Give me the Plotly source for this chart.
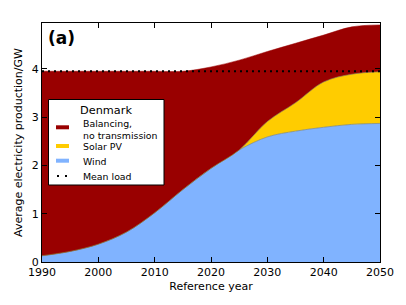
import plotly.graph_objects as go

years = [1990, 1995, 2000, 2005, 2010, 2015, 2020, 2025, 2030, 2035, 2040, 2045, 2050]
wind = [0.13, 0.22, 0.37, 0.62, 1.02, 1.50, 1.94, 2.32, 2.59, 2.71, 2.79, 2.85, 2.87]
solar = [0.0, 0.0, 0.0, 0.0, 0.0, 0.0, 0.0, 0.0, 0.32, 0.59, 0.94, 1.04, 1.07]
total = [3.95, 3.95, 3.95, 3.95, 3.95, 3.95, 4.04, 4.18, 4.36, 4.53, 4.70, 4.87, 4.91]
balancing = [t - w - s for t, w, s in zip(total, wind, solar)]
mean_load = [3.95, 3.95]
load_years = [1990, 2050]

legend_title = "Denmark"
legend_labels = ["Balancing,<br>no transmission", "Solar PV", "Wind", "Mean load"]

C_WIND = "#80B3FF"
C_SOLAR = "#FFCC00"
C_BAL = "#990000"
SM = 1.0

W, H = 406, 305
ML, MR, MT, MB = 42, 26, 23, 43
PW, PH = W - ML - MR, H - MT - MB


def px(x):
    return (x - ML) / PW


def py(y):
    return (H - MB - y) / PH


fig = go.Figure()
fig.add_trace(go.Scatter(x=years, y=wind, name="Wind", stackgroup="one",
                         mode="lines", line=dict(width=0.7, color="#6a7f99", shape="spline", smoothing=SM),
                         fillcolor=C_WIND, showlegend=False))
fig.add_trace(go.Scatter(x=years, y=solar, name="Solar PV", stackgroup="one",
                         mode="lines", line=dict(width=0.7, color="#8a7a3a", shape="spline", smoothing=SM),
                         fillcolor=C_SOLAR, showlegend=False))
fig.add_trace(go.Scatter(x=years, y=balancing, name="Balancing, no transmission", stackgroup="one",
                         mode="lines", line=dict(width=0.5, color=C_BAL, shape="spline", smoothing=SM),
                         fillcolor=C_BAL, showlegend=False))
fig.add_trace(go.Scatter(x=load_years, y=mean_load, name="Mean load", mode="lines",
                         line=dict(color="black", width=2, dash="2px,4px"), showlegend=False))

font = "DejaVu Sans"

# legend drawn by hand to match the reference layout
shapes = [dict(type="rect", xref="paper", yref="paper", x0=px(48.5), x1=px(164), y0=py(185), y1=py(99.5),
               line=dict(color="black", width=1), fillcolor="white", layer="above")]
annotations = [dict(text=legend_title, x=px(106), y=py(110), xref="paper", yref="paper",
                    xanchor="center", yanchor="middle", showarrow=False, font=dict(size=11.3))]
sym_y = [127.3, 146, 160.7, 176]
txt_y = [129, 146, 161, 176.5]
sym_col = [C_BAL, C_SOLAR, C_WIND]
for i, c in enumerate(sym_col):
    shapes.append(dict(type="rect", xref="paper", yref="paper", x0=px(56), x1=px(69),
                       y0=py(sym_y[i] + 2), y1=py(sym_y[i] - 2), line=dict(width=0),
                       fillcolor=c, layer="above"))
shapes.append(dict(type="line", xref="paper", yref="paper", x0=px(57), x1=px(70),
                   y0=py(sym_y[3]), y1=py(sym_y[3]), layer="above",
                   line=dict(color="black", width=2, dash="2px,6px")))
for i, lab in enumerate(legend_labels):
    annotations.append(dict(text=lab, x=px(81), y=py(txt_y[i]), xref="paper", yref="paper",
                            xanchor="left", yanchor="middle", align="left", showarrow=False,
                            font=dict(size=9.4)))
annotations.append(dict(text="<b>(a)</b>", x=px(46), y=py(26), xref="paper", yref="paper",
                        xanchor="left", yanchor="top", showarrow=False,
                        font=dict(size=17, family=font)))

fig.update_layout(
    width=W, height=H,
    margin=dict(l=ML, r=MR, t=MT, b=MB),
    paper_bgcolor="white", plot_bgcolor="white",
    font=dict(family=font, size=11, color="black"),
    showlegend=False,
    xaxis=dict(
        range=[1990, 2050], tickvals=[1990, 2000, 2010, 2020, 2030, 2040, 2050],
        ticks="inside", ticklen=5, tickcolor="black", showline=True, linecolor="black",
        linewidth=1, mirror="allticks", showgrid=False, zeroline=False, automargin=False,
        title=dict(text="Reference year", font=dict(size=11), standoff=4),
        tickfont=dict(size=11),
    ),
    yaxis=dict(
        range=[0, 4.95], tickvals=[0, 1, 2, 3, 4],
        ticks="inside", ticklen=5, tickcolor="black", showline=True, linecolor="black",
        linewidth=1, mirror="allticks", showgrid=False, zeroline=False, automargin=False,
        title=dict(text="Average electricity production/GW", font=dict(size=11), standoff=6),
        tickfont=dict(size=11),
    ),
    shapes=shapes,
    annotations=annotations,
)
fig.write_html("out.html", config={"displayModeBar": False},
               post_script="document.body.style.margin='0';")
